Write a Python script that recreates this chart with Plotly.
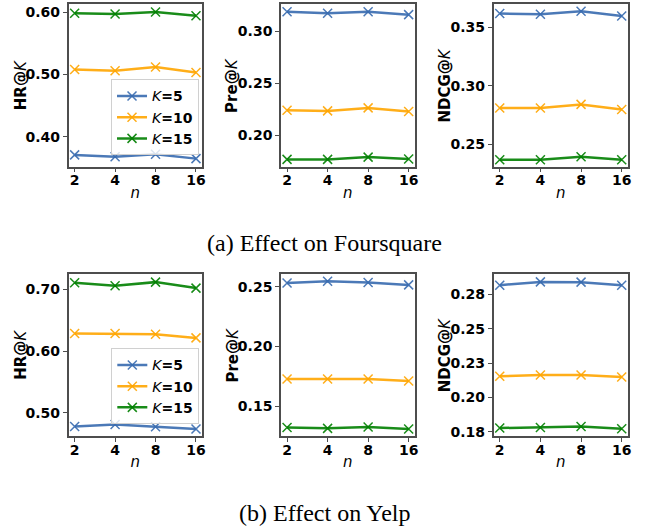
import plotly.graph_objects as go

n_labels = ["2", "4", "8", "16"]
k_names = ["5", "10", "15"]

# Foursquare
fs_hr = [[0.371, 0.368, 0.372, 0.365],
         [0.508, 0.506, 0.512, 0.503],
         [0.598, 0.597, 0.600, 0.594]]
fs_pre = [[0.3190, 0.3176, 0.3190, 0.3163],
          [0.2240, 0.2234, 0.2263, 0.2228],
          [0.1766, 0.1766, 0.1788, 0.1769]]
fs_ndcg = [[0.3615, 0.3609, 0.3635, 0.3594],
           [0.2809, 0.2809, 0.2840, 0.2797],
           [0.2368, 0.2368, 0.2394, 0.2368]]
# Yelp
yp_hr = [[0.4780, 0.4812, 0.4775, 0.4738],
         [0.6285, 0.6285, 0.6274, 0.6215],
         [0.7108, 0.7059, 0.7119, 0.7022]]
yp_pre = [[0.2533, 0.2548, 0.2537, 0.2517],
          [0.1727, 0.1727, 0.1727, 0.1710],
          [0.1321, 0.1313, 0.1324, 0.1308]]
yp_ndcg = [[0.2818, 0.2842, 0.2840, 0.2818],
           [0.2154, 0.2163, 0.2163, 0.2149],
           [0.1777, 0.1781, 0.1788, 0.1772]]

ticks_fs_hr = [0.40, 0.50, 0.60]
ticks_fs_pre = [0.20, 0.25, 0.30]
ticks_fs_ndcg = [0.25, 0.30, 0.35]
ticks_yp_hr = [0.50, 0.60, 0.70]
ticks_yp_pre = [0.15, 0.20, 0.25]
ticks_yp_ndcg = [0.175, 0.200, 0.225, 0.250, 0.275]
ticktext_yp_ndcg = ["0.18", "0.20", "0.23", "0.25", "0.28"]

metric_titles = ["HR@", "Pre@", "NDCG@"]
captions = ["(a) Effect on Foursquare", "(b) Effect on Yelp"]

colors = ["rgba(55,106,175,0.9)", "rgba(255,165,0,0.9)", "rgba(0,128,0,0.9)"]

W, H = 651, 531
col_px = [(69, 203.3), (282.7, 417.3), (496.7, 631.7)]
row_px = [(4, 168), (276, 439.3)]
ytitle_x = [21, 234, 448]

panels = [
    [(fs_hr, ticks_fs_hr, None, [0.352, 0.613]),
     (fs_pre, ticks_fs_pre, None, [0.1695, 0.3266]),
     (fs_ndcg, ticks_fs_ndcg, None, [0.2308, 0.3697])],
    [(yp_hr, ticks_yp_hr, None, [0.4625, 0.7252]),
     (yp_pre, ticks_yp_pre, None, [0.1249, 0.2609]),
     (yp_ndcg, ticks_yp_ndcg, ticktext_yp_ndcg, [0.1719, 0.290])],
]

fig = go.Figure()
tick_font = dict(family="DejaVu Sans", size=14, color="black", weight="bold")
frame = "#4d4d4d"
annotations = []
idx = 0
for r in range(2):
    for c in range(3):
        idx += 1
        data, tv, tt, yr = panels[r][c]
        xa = "x" if idx == 1 else f"x{idx}"
        ya = "y" if idx == 1 else f"y{idx}"
        for k in range(3):
            show = (c == 0)
            fig.add_trace(go.Scatter(
                x=n_labels, y=data[k], mode="lines+markers",
                name=f"<i>K</i><b>={k_names[k]}</b>",
                line=dict(color=colors[k], width=2.5),
                marker=dict(symbol="x-thin", size=9,
                            line=dict(color=colors[k], width=1.5)),
                xaxis=xa, yaxis=ya, showlegend=show,
                legend="legend" if r == 0 else "legend2",
            ))
        x0, x1 = col_px[c]
        y0, y1 = row_px[r]
        xd = [x0 / W, x1 / W]
        yd = [1 - y1 / H, 1 - y0 / H]
        axkey = "xaxis" if idx == 1 else f"xaxis{idx}"
        aykey = "yaxis" if idx == 1 else f"yaxis{idx}"
        fig.layout[axkey] = dict(
            domain=xd, anchor=ya, type="category", range=[-0.15, 3.15],
            showline=True, mirror=True, linecolor=frame, linewidth=1.5,
            ticks="outside", ticklen=4, tickwidth=1.2, tickcolor=frame,
            ticklabelstandoff=-4,
            showgrid=False, zeroline=False, tickfont=tick_font,
            title=dict(text="<i>n</i>", font=dict(family="DejaVu Sans", size=15, color="black"),
                       standoff=0),
        )
        yconf = dict(
            domain=yd, anchor=xa, range=yr, tickvals=tv,
            showline=True, mirror=True, linecolor=frame, linewidth=1.5,
            ticks="outside", ticklen=4, tickwidth=1.2, tickcolor=frame,
            showgrid=False, zeroline=False, tickfont=tick_font,
        )
        if tt is not None:
            yconf["ticktext"] = tt
        else:
            yconf["tickformat"] = ".2f"
        fig.layout[aykey] = yconf
        annotations.append(dict(
            x=ytitle_x[c] / W, y=(yd[0] + yd[1]) / 2, xref="paper", yref="paper",
            text=f"<b>{metric_titles[c]}</b><i>K</i>", textangle=-90, showarrow=False,
            xanchor="center", yanchor="middle",
            font=dict(family="DejaVu Sans", size=15, color="black"),
        ))

annotations.append(dict(x=327 / W, y=1 - 245 / H, xref="paper", yref="paper",
                        text=captions[0], showarrow=False, xanchor="center", yanchor="middle",
                        font=dict(family="Liberation Serif", size=24, color="black")))
annotations.append(dict(x=327 / W, y=1 - 517 / H, xref="paper", yref="paper",
                        text=captions[1], showarrow=False, xanchor="center", yanchor="middle",
                        font=dict(family="Liberation Serif", size=24, color="black")))

legend_common = dict(
    xanchor="left", yanchor="top", bgcolor="rgba(255,255,255,0.8)",
    bordercolor="#d0d0d0", borderwidth=1,
    font=dict(family="DejaVu Sans", size=14, color="black"),
    itemwidth=30, tracegroupgap=0,
)
fig.update_layout(
    width=W, height=H, margin=dict(l=0, r=0, t=0, b=0),
    paper_bgcolor="white", plot_bgcolor="white",
    legend=dict(x=111.7 / W, y=1 - 80 / H, **legend_common),
    legend2=dict(x=112 / W, y=1 - 351 / H, **legend_common),
    annotations=annotations,
)

fig.write_html("out.html", config={"displayModeBar": False},
               post_script="document.body.style.margin='0';document.body.style.padding='0';")
